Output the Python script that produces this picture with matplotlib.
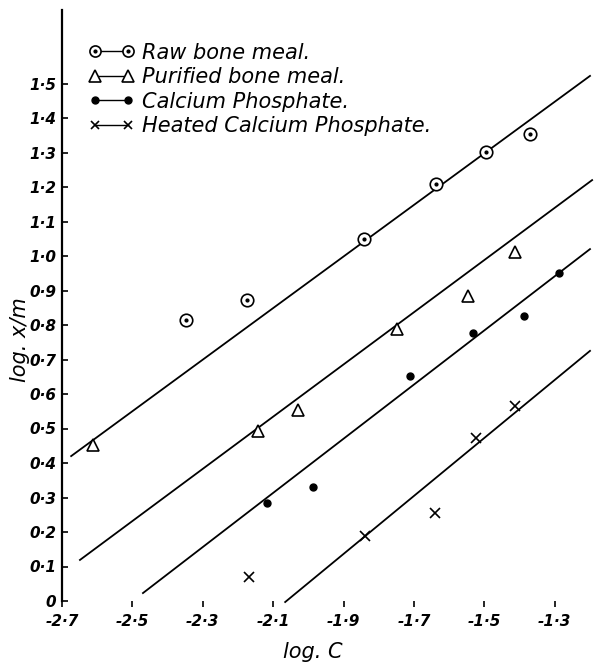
import matplotlib
matplotlib.use("Agg")
import matplotlib.pyplot as plt
from matplotlib.lines import Line2D
from matplotlib.legend_handler import HandlerTuple

# measured points, log C vs log x/m
raw_x = [-2.348, -2.174, -1.842, -1.638, -1.495, -1.370]
raw_y = [0.814, 0.872, 1.049, 1.209, 1.301, 1.354]
pur_x = [-2.612, -2.143, -2.030, -1.749, -1.547, -1.413]
pur_y = [0.452, 0.493, 0.554, 0.788, 0.884, 1.012]
cap_x = [-2.118, -1.987, -1.711, -1.532, -1.388, -1.288]
cap_y = [0.284, 0.330, 0.652, 0.777, 0.826, 0.951]
hcp_x = [-2.169, -1.839, -1.640, -1.524, -1.413]
hcp_y = [0.070, 0.188, 0.255, 0.472, 0.565]

# drawn straight lines (end points)
raw_line_x = [-2.674, -1.200]
raw_line_y = [0.420, 1.522]
pur_line_x = [-2.649, -1.194]
pur_line_y = [0.119, 1.220]
cap_line_x = [-2.470, -1.200]
cap_line_y = [0.023, 1.020]
hcp_line_x = [-2.066, -1.200]
hcp_line_y = [-0.003, 0.725]

labels = ["Raw bone meal.", "Purified bone meal.",
          "Calcium Phosphate.", "Heated Calcium Phosphate."]
xticks = [-2.7, -2.5, -2.3, -2.1, -1.9, -1.7, -1.5, -1.3]
yticks = [0, 0.1, 0.2, 0.3, 0.4, 0.5, 0.6, 0.7, 0.8, 0.9, 1.0, 1.1, 1.2, 1.3, 1.4, 1.5]

def fmt(v):
    if v == 0:
        return "0"
    return ("%.1f" % v).replace(".", "\u00b7")

plt.rcParams['font.family'] = ['DejaVu Sans']
fig = plt.figure(figsize=(6, 6.62), dpi=100)
ax = fig.add_axes([62/600, 61/662, 538/600, 591/662])
ax.set_xlim(-2.7, -2.7 + 538/352)
ax.set_ylim(0, 591/345)

lw = 1.3
for lx, ly in [(raw_line_x, raw_line_y), (pur_line_x, pur_line_y),
               (cap_line_x, cap_line_y), (hcp_line_x, hcp_line_y)]:
    ax.plot(lx, ly, color="black", linewidth=lw, clip_on=False)

ax.plot(raw_x, raw_y, "o", ms=9, mfc="white", mec="black", mew=1.2, ls="none")
ax.plot(raw_x, raw_y, "o", ms=2, color="black", ls="none")
ax.plot(pur_x, pur_y, "^", ms=9, mfc="white", mec="black", mew=1.2, ls="none")
ax.plot(cap_x, cap_y, "o", ms=5, color="black", ls="none")
ax.plot(hcp_x, hcp_y, "x", ms=7, color="black", mew=1.2, ls="none")

# legend handles: marker - line - marker
h_raw = (Line2D([], [], color="black", lw=1, marker="o", ms=8, mfc="white", mec="black", mew=1.2),
         Line2D([], [], color="black", lw=0, marker="o", ms=2))
h_pur = Line2D([], [], color="black", lw=1, marker="^", ms=8, mfc="white", mec="black", mew=1.2)
h_cap = Line2D([], [], color="black", lw=1, marker="o", ms=5)
h_hcp = Line2D([], [], color="black", lw=1, marker="x", ms=6, mew=1.2)
leg = ax.legend([h_raw, h_pur, h_cap, h_hcp], labels, loc="upper left",
                bbox_to_anchor=(0.05, 0.945), frameon=False, numpoints=2,
                handlelength=2.2, handletextpad=0.35, labelspacing=0.22,
                borderpad=0, borderaxespad=0,
                handler_map={tuple: HandlerTuple(ndivide=1, pad=0)},
                prop={"style": "italic", "size": 15})

ax.spines["top"].set_visible(False)
ax.spines["right"].set_visible(False)
ax.spines["bottom"].set_visible(False)
ax.spines["left"].set_linewidth(1.6)

ax.set_yticks(yticks)
ax.set_yticklabels([fmt(v) for v in yticks], fontsize=11, fontstyle="italic", fontweight="bold")
ax.tick_params(axis="y", direction="in", length=4, width=1.2, pad=4)
ax.set_xticks(xticks)
ax.set_xticklabels([fmt(v) for v in xticks], fontsize=11,
                   fontstyle="italic", fontweight="bold")
ax.tick_params(axis="x", direction="out", length=4, width=1.2, pad=5)

ax.set_xlabel("log. C", fontsize=15, fontstyle="italic")
ax.set_ylabel("log. x/m", fontsize=15, fontstyle="italic")
ax.xaxis.set_label_coords((313-62)/538, -0.07)
ax.yaxis.set_label_coords(-0.06, (601-340)/591)

fig.savefig("out.png", dpi=100)
